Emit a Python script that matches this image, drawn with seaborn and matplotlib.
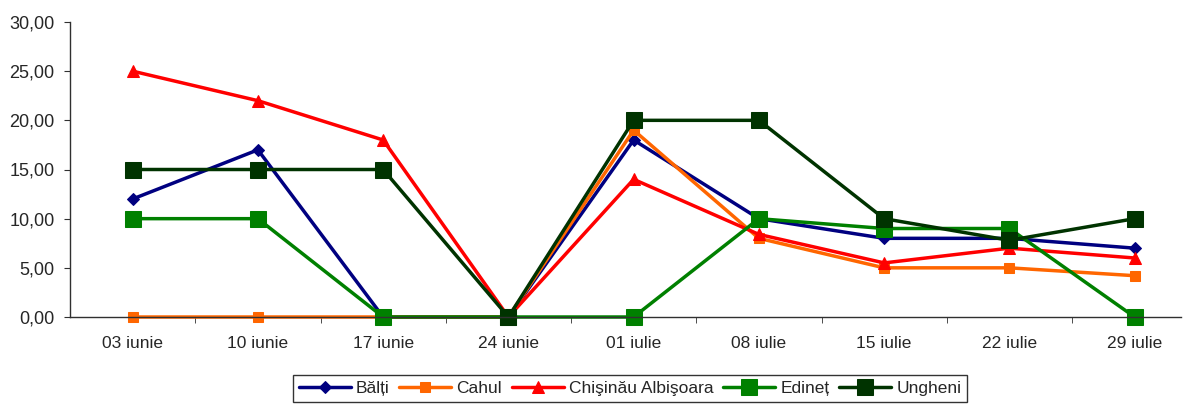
import matplotlib
matplotlib.use('Agg')
import matplotlib.pyplot as plt
from matplotlib.ticker import FixedLocator, FuncFormatter
import pandas as pd
import seaborn as sns

dates = ['03 iunie', '10 iunie', '17 iunie', '24 iunie', '01 iulie',
         '08 iulie', '15 iulie', '22 iulie', '29 iulie']
balti = [12, 17, 0, 0, 18, 10, 8, 8, 7]
cahul = [0, 0, 0, 0, 19, 8, 5, 5, 4.2]
chisinau = [25, 22, 18, 0, 14, 8.4, 5.5, 7, 6]
edinet = [10, 10, 0, 0, 0, 10, 9, 9, 0]
ungheni = [15, 15, 15, 0, 20, 20, 10, 7.8, 10]

series = [
    ('Bălți', balti, '#000080', 'D', 6),
    ('Cahul', cahul, '#FF6600', 's', 7),
    ('Chişinău Albişoara', chisinau, '#FF0000', '^', 8),
    ('Edineț', edinet, '#008000', 's', 11),
    ('Ungheni', ungheni, '#003300', 's', 11),
]

sns.set_style('white')
plt.rcParams['font.family'] = ['Liberation Sans', 'DejaVu Sans']

fig = plt.figure(figsize=(11.87, 4.04), dpi=100)
ax = fig.add_axes([70 / 1187, 1 - 317 / 404, 1111 / 1187, (317 - 22) / 404])

for name, vals, color, marker, ms in series:
    df = pd.DataFrame({'date': dates, 'value': vals})
    sns.lineplot(data=df, x='date', y='value', ax=ax, color=color, marker=marker,
                 markersize=ms, markeredgecolor=color, linewidth=2.5, label=name,
                 sort=False, clip_on=False)

# categories spaced so that the last one sits near the right edge
ax.set_xlim(-0.5, len(dates) - 0.63)
ax.set_ylim(0, 30)
ax.set_yticks([0, 5, 10, 15, 20, 25, 30])
ax.yaxis.set_major_formatter(FuncFormatter(lambda v, p: f'{v:.2f}'.replace('.', ',')))
ax.set_xticks(range(len(dates)))
ax.set_xticklabels(dates)
ax.xaxis.set_minor_locator(FixedLocator([i + 0.5 for i in range(len(dates) - 1)]))
ax.tick_params(axis='x', which='major', length=0, pad=14, labelsize=12.5)
ax.tick_params(axis='x', which='minor', length=4, color='#303030', direction='out', bottom=True)
ax.tick_params(axis='y', length=4, color='#303030', direction='out', left=True,
               labelsize=13, pad=7)
ax.set_xlabel('')
ax.set_ylabel('')
for s in ['top', 'right']:
    ax.spines[s].set_visible(False)
for s in ['left', 'bottom']:
    ax.spines[s].set_color('#303030')
    ax.spines[s].set_linewidth(1)

leg = ax.legend(loc='upper center', bbox_to_anchor=(630 / 1187, 1 - 366 / 404),
                bbox_transform=fig.transFigure, ncol=5, frameon=True, fancybox=False,
                edgecolor='black', fontsize=12.5, handlelength=3.0, handletextpad=0.3,
                columnspacing=0.55, borderpad=0.35)
leg.get_frame().set_linewidth(1)

fig.savefig('out.png', dpi=100)
plt.close()
